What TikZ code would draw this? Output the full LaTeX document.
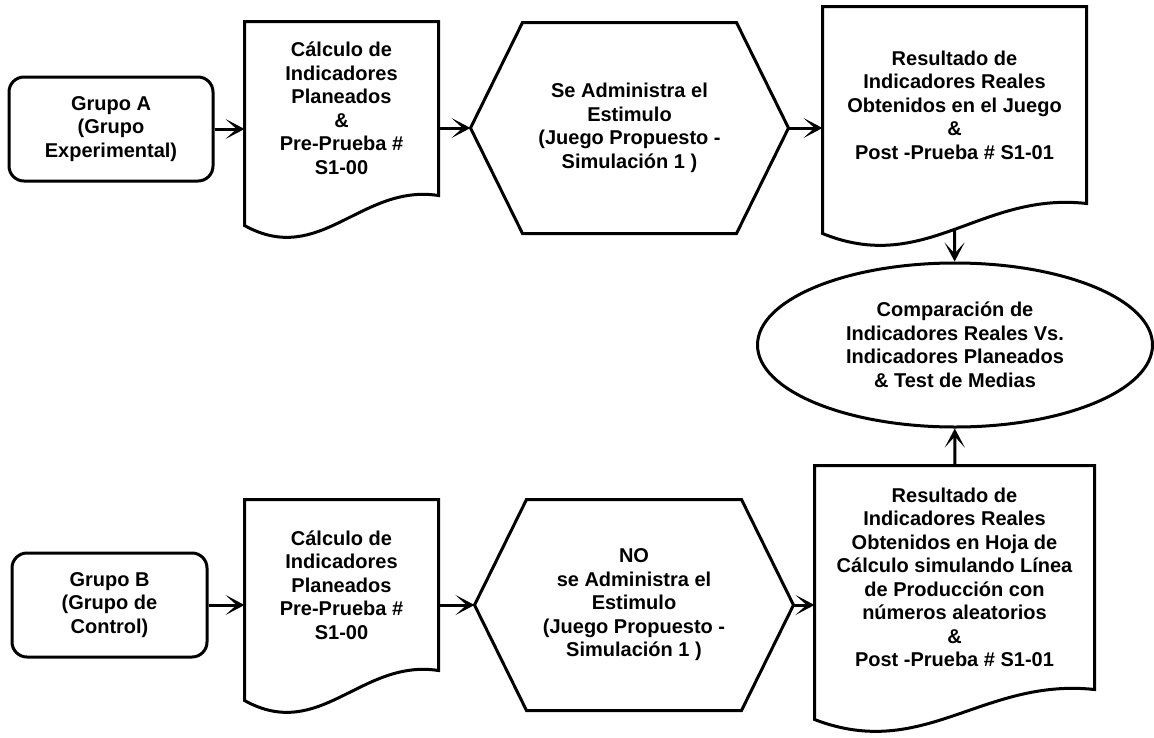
\documentclass[tikz,border=0pt]{standalone}
\usepackage{fontspec}
\setmainfont{Liberation Sans}
\usetikzlibrary{arrows.meta,calc,shapes.geometric}

\tikzset{
  grp/.style={draw, rounded corners=15pt, minimum width=#1, minimum height=104pt, align=center, inner sep=0pt},
  docbox/.style 2 args={minimum width=#1, minimum height=#2, align=center, inner sep=0pt},
  hexbox/.style={minimum width=#1, minimum height=208pt, align=center, inner sep=0pt},
  cmp/.style={draw, ellipse, minimum width=395pt, minimum height=164pt, align=center, inner sep=0pt}
}

% outline of a document shape (wavy bottom) round a node
\newcommand\docline[1]{%
  \draw[-] (#1.north west) -- (#1.north east) -- (#1.south east)
    .. controls ($(#1.south west)!0.6!(#1.south east)+(0pt,12pt)$)
    and ($(#1.south west)!0.39!(#1.south east)+(0pt,-72pt)$) .. ([yshift=-30pt]#1.south west) -- cycle;}
% outline of a hexagon round a node
\newcommand\hexline[1]{%
  \draw[-] (#1.west) -- ([xshift=52pt]#1.north west) -- ([xshift=-52pt]#1.north east) -- (#1.east)
    -- ([xshift=-52pt]#1.south east) -- ([xshift=52pt]#1.south west) -- cycle;}

\begin{document}
\begin{tikzpicture}[x=1pt,y=-1pt,line width=3pt,-{Stealth[length=19pt,width=20pt,inset=11pt]},
  font=\bfseries\fontsize{20}{23.5}\selectfont]
\useasboundingbox (0,0) rectangle (1154,737);

% experimental group
\node[grp=204pt] (GA) at (111,129) {Grupo A\\(Grupo\\Experimental)};
\node[docbox={191pt}{171pt}] (CA) at (341.5,108.5) {Cálculo de\\Indicadores\\Planeados\\\&\\Pre-Prueba \#\\S1-00};
\docline{CA}
\node[hexbox=315pt] (SA) at (629.5,128) {Se Administra el\\Estimulo\\(Juego Propuesto -\\Simulación 1 )};
\hexline{SA}
\node[docbox={261pt}{194pt}] (RA) at (954.5,105) {Resultado de\\Indicadores Reales\\Obtenidos en el Juego\\\&\\Post -Prueba \# S1-01};
\docline{RA}

\node[cmp] (CO) at (955,345) {Comparación de\\Indicadores Reales Vs.\\Indicadores Planeados\\\& Test de Medias};

% control group
\node[grp=195pt] (GB) at (109.5,605) {Grupo B\\(Grupo de\\Control)};
\node[docbox={191pt}{168pt}] (CB) at (341.5,585) {Cálculo de\\Indicadores\\Planeados\\Pre-Prueba \#\\S1-00};
\docline{CB}
\node[hexbox=316pt] (SB) at (634,605) {NO\\se Administra el\\Estimulo\\(Juego Propuesto -\\Simulación 1 )};
\hexline{SB}
\node[docbox={277pt}{221pt}] (RB) at (954.5,577.5) {Resultado de\\Indicadores Reales\\Obtenidos en Hoja de\\Cálculo simulando Línea\\de Producción con\\números aleatorios\\\&\\Post -Prueba \# S1-01};
\docline{RB}

\draw (GA) -- (GA -| CA.west);
\draw (SA.west -| CA.east) -- (SA);
\draw (SA) -- (SA -| RA.west);
\draw ([yshift=-25pt]RA.south) -- (CO);

\draw (GB) -- (GB -| CB.west);
\draw (SB.west -| CB.east) -- (SB);
\draw (SB) -- (SB -| RB.west);
\draw (RB) -- (CO);

\end{tikzpicture}
\end{document}
